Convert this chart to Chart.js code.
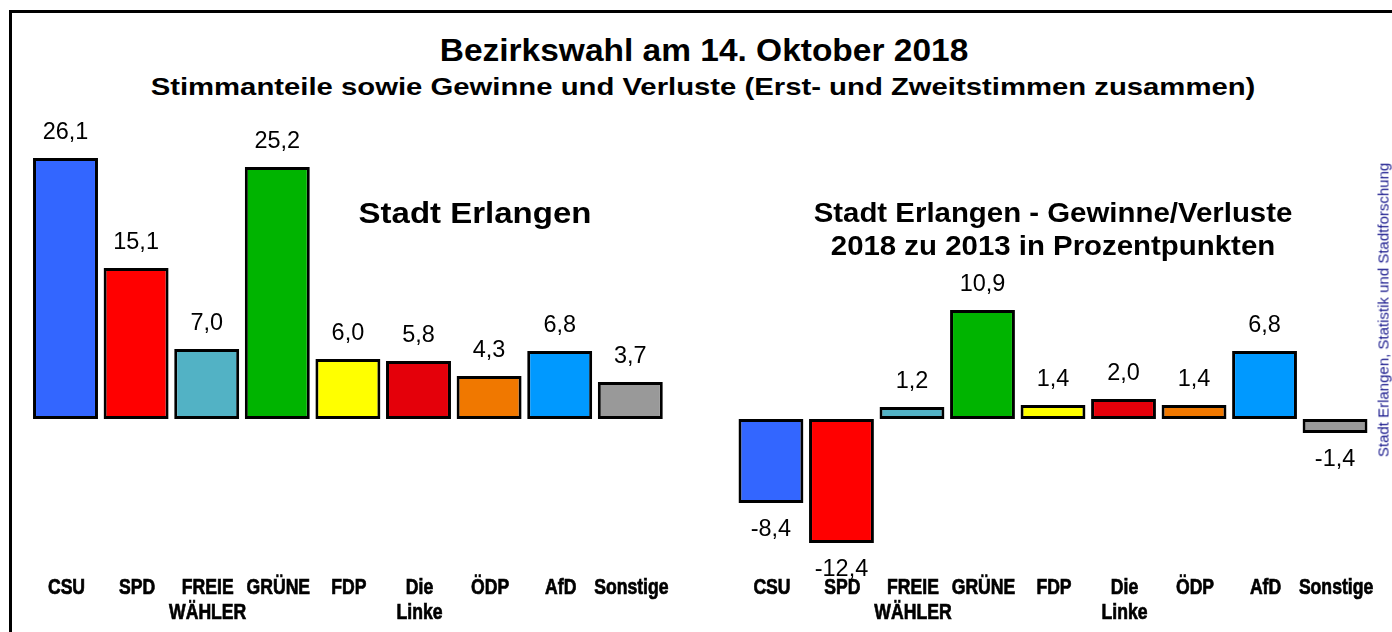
<!DOCTYPE html>
<html>
<head>
<meta charset="utf-8">
<script src="https://cdn.jsdelivr.net/npm/chart.js@4/dist/chart.umd.min.js"></script>
<style>
  html, body { margin:0; padding:0; background:#fff; }
  #wrap { position:relative; width:1392px; height:632px; overflow:hidden; background:#fff; }
  #frame { position:absolute; left:9px; top:10px; width:1500px; height:800px; border-left:3px solid #000; border-top:3px solid #000; box-sizing:border-box; }
  .t { position:absolute; font-family:'Liberation Sans', Arial, sans-serif; font-weight:bold; color:#000; text-align:center; white-space:nowrap; }
  canvas { position:absolute; top:0; }
  #credit { position:absolute; left:1383px; top:310px; transform:translate(-50%,-50%) rotate(-90deg); font-family:'Liberation Sans', Arial, sans-serif; font-size:15px; color:#1c1c8e; white-space:nowrap; }
</style>
</head>
<body>
<div id="wrap">
  <div id="frame"></div>
  <div class="t" style="left:704px; top:51px; font-size:31px; transform:translate(-50%,-50%) scaleX(1.08);">Bezirkswahl am 14. Oktober 2018</div>
  <div class="t" style="left:703px; top:87px; font-size:24px; transform:translate(-50%,-50%) scaleX(1.22);">Stimmanteile sowie Gewinne und Verluste (Erst- und Zweitstimmen zusammen)</div>
  <canvas id="c1" width="700" height="632" style="left:0px"></canvas>
  <canvas id="c2" width="692" height="632" style="left:700px"></canvas>
  <div class="t" style="left:475px; top:213px; font-size:30px; transform:translate(-50%,-50%) scaleX(1.1);">Stadt Erlangen</div>
  <div class="t" style="left:1053px; top:229px; font-size:28px; line-height:33px; transform:translate(-50%,-50%) scaleX(1.05);">Stadt Erlangen - Gewinne/Verluste<br>2018 zu 2013 in Prozentpunkten</div>
  <div id="credit">Stadt Erlangen, Statistik und Stadtforschung</div>
</div>
<script>
const categories = [['CSU'], ['SPD'], ['FREIE', 'WÄHLER'], ['GRÜNE'], ['FDP'], ['Die', 'Linke'], ['ÖDP'], ['AfD'], ['Sonstige']];
const shares2018 = [26.1, 15.1, 7.0, 25.2, 6.0, 5.8, 4.3, 6.8, 3.7];
const changes2013 = [-8.4, -12.4, 1.2, 10.9, 1.4, 2.0, 1.4, 6.8, -1.4];
const partyColors = ['#3366ff', '#ff0000', '#52b2c5', '#00b400', '#ffff00', '#e4000a', '#f07800', '#0099ff', '#999999'];

const fmt = v => v.toFixed(1).replace('.', ',');

function scaledText(ctx, text, x, y, sx, stroke) {
  ctx.save();
  ctx.translate(x, y);
  ctx.scale(sx, 1);
  ctx.fillText(text, 0, 0);
  if (stroke) { ctx.lineWidth = stroke; ctx.strokeStyle = '#000'; ctx.strokeText(text, 0, 0); }
  ctx.restore();
}

const labelPlugin = {
  id: 'labels',
  afterDatasetsDraw(chart) {
    const ctx = chart.ctx;
    const meta = chart.getDatasetMeta(0);
    const data = chart.data.datasets[0].data;
    const xs = chart.scales.x;
    const area = chart.chartArea;
    ctx.save();
    ctx.fillStyle = '#000';
    ctx.textAlign = 'center';
    ctx.textBaseline = 'middle';
    ctx.font = '23px "Liberation Sans", Arial, sans-serif';
    meta.data.forEach((bar, i) => {
      const v = data[i];
      const y = v >= 0 ? bar.y - 25 : bar.y + 27;
      scaledText(ctx, fmt(v), bar.x, y, 1.02, 0);
    });
    ctx.font = 'bold 22px "Liberation Sans", Arial, sans-serif';
    chart.data.labels.forEach((lab, i) => {
      const x = xs.getPixelForValue(i);
      lab.forEach((line, k) => scaledText(ctx, line, x + 1, area.bottom + 19 + k * 25, 0.8, 0.7));
    });
    ctx.restore();
  }
};

function makeChart(id, values, padL, padR) {
  return new Chart(document.getElementById(id), {
    type: 'bar',
    data: {
      labels: categories,
      datasets: [{
        data: values,
        backgroundColor: partyColors,
        borderColor: '#000',
        borderWidth: 3,
        borderSkipped: false,
        barPercentage: 0.92,
        categoryPercentage: 1
      }]
    },
    options: {
      responsive: false,
      animation: false,
      layout: { padding: { left: padL, right: padR, top: 139, bottom: 63 } },
      plugins: { legend: { display: false }, tooltip: { enabled: false }, title: { display: false } },
      scales: {
        x: { display: false },
        y: { display: false, min: -15, max: 28 }
      }
    },
    plugins: [labelPlugin]
  });
}

makeChart('c1', shares2018, 30.2, 700 - 665.6);
makeChart('c2', changes2013, 735.7 - 700, 1392 - 1370.3);
</script>
</body>
</html>
